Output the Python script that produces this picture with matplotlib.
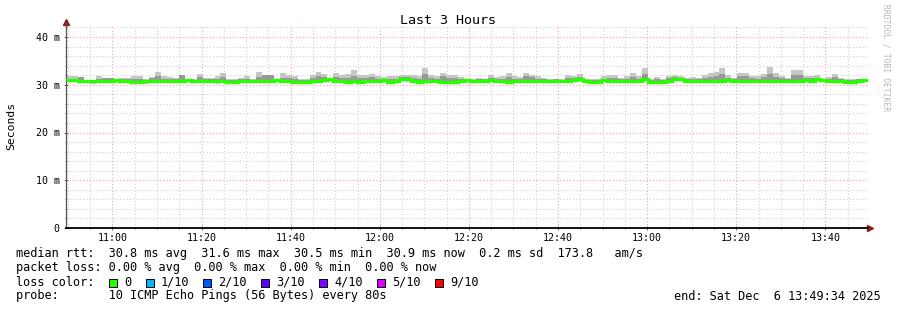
"""
SmokePing style latency graph: last 3 hours of median RTT with ping smoke.
Writes out.png (897x310).
"""

import matplotlib

matplotlib.use("Agg")
import matplotlib.pyplot as plt
import numpy as np
from matplotlib.patches import Rectangle
from matplotlib.ticker import FixedLocator

W, H = 897, 310
MONO = "DejaVu Sans Mono"

# ---- data (ms), one value per 80 s step, starting 10:49:34 ----
start_time = "10:49:34"
step_seconds = 80

median_rtt = [
    30.9, 31.0, 30.8, 30.7, 30.7, 30.7, 30.8, 30.8, 30.9, 30.7, 30.7, 30.6, 30.6, 30.7, 30.8,
    30.8, 30.7, 30.7, 30.8, 30.8, 31.0, 30.8, 30.7, 30.7, 30.7, 30.8, 30.7, 30.6, 30.6, 30.8,
    30.7, 30.8, 30.8, 30.8, 30.7, 30.9, 30.8, 30.7, 30.6, 30.6, 30.6, 30.7, 30.8, 31.0, 31.2,
    30.8, 30.7, 30.6, 30.7, 30.6, 30.8, 30.7, 30.8, 30.9, 30.6, 30.7, 31.3, 31.1, 30.7, 30.6,
    30.7, 30.8, 30.7, 30.6, 30.6, 30.6, 30.8, 30.9, 30.7, 30.8, 30.7, 30.9, 30.8, 30.7, 30.6,
    30.8, 30.7, 30.7, 30.7, 30.8, 30.7, 30.8, 30.8, 30.8, 30.8, 30.9, 31.1, 30.7, 30.6, 30.6,
    30.9, 30.7, 30.7, 30.8, 30.7, 30.8, 30.7, 31.2, 30.6, 30.6, 30.6, 30.8, 31.2, 31.1, 30.8,
    30.8, 30.7, 30.8, 30.7, 30.8, 30.8, 30.9, 30.8, 30.8, 30.8, 30.8, 30.8, 30.7, 30.7, 30.8,
    30.8, 30.7, 30.8, 30.8, 30.9, 30.8, 31.1, 31.0, 30.8, 30.7, 30.8, 30.6, 30.6, 30.7, 30.9,
]

smoke_top = [
    31.8, 31.8, 31.6, 31.0, 31.0, 31.8, 31.5, 31.5, 31.3, 31.4, 31.4, 31.8, 31.8, 31.1, 31.6,
    32.7, 31.8, 31.6, 31.5, 32.1, 31.3, 31.1, 32.3, 31.4, 31.4, 31.8, 32.4, 31.1, 31.1, 31.4,
    31.8, 31.1, 32.7, 32.0, 32.0, 31.3, 32.5, 32.0, 31.8, 31.1, 31.1, 32.0, 32.7, 32.3, 31.5,
    32.4, 32.0, 32.2, 33.0, 32.0, 32.0, 32.3, 31.8, 31.7, 31.8, 31.8, 32.1, 32.1, 32.0, 31.8,
    33.6, 32.0, 31.8, 32.5, 32.1, 32.0, 31.6, 31.1, 31.1, 31.5, 31.3, 32.0, 31.7, 31.8, 32.5,
    31.8, 31.6, 32.5, 32.1, 31.8, 31.4, 31.1, 31.3, 31.1, 32.0, 31.8, 32.3, 31.3, 31.1, 31.3,
    31.8, 32.0, 32.0, 31.4, 31.8, 32.4, 31.8, 33.6, 31.1, 31.6, 31.1, 31.8, 32.0, 31.8, 31.4,
    31.7, 31.4, 32.0, 32.4, 32.7, 33.6, 32.0, 31.5, 32.5, 32.5, 31.8, 31.8, 32.2, 33.7, 32.4,
    31.8, 31.4, 33.0, 33.0, 31.8, 31.8, 32.0, 31.3, 31.7, 32.3, 31.4, 31.1, 31.1, 31.3, 31.3,
]

smoke_inner = [
    31.3, 31.3, 31.6, 30.9, 30.9, 31.3, 31.4, 31.4, 31.1, 31.2, 31.2, 31.2, 31.1, 30.9, 31.5,
    31.9, 31.3, 31.3, 31.3, 32.1, 31.2, 30.9, 31.6, 31.2, 31.2, 31.3, 31.7, 30.9, 30.9, 31.2,
    31.3, 30.9, 31.6, 32.0, 32.0, 31.1, 31.5, 31.4, 31.3, 30.9, 30.9, 31.4, 31.8, 31.6, 31.4,
    31.6, 31.4, 31.4, 31.8, 31.4, 31.4, 31.6, 31.3, 31.2, 31.3, 31.3, 31.6, 31.6, 31.4, 31.2,
    32.3, 31.5, 31.3, 31.9, 31.5, 31.4, 31.2, 30.9, 31.0, 31.2, 31.1, 31.5, 31.2, 31.3, 31.6,
    31.3, 31.3, 31.8, 31.6, 31.3, 31.1, 30.9, 31.1, 31.0, 31.5, 31.4, 31.7, 31.0, 30.9, 31.0,
    31.3, 31.4, 31.4, 31.2, 31.3, 31.6, 31.3, 32.3, 30.9, 31.3, 30.9, 31.4, 31.6, 31.4, 31.2,
    31.3, 31.2, 31.5, 31.7, 31.9, 32.2, 31.5, 31.3, 31.8, 31.8, 31.4, 31.3, 31.6, 32.3, 31.7,
    31.4, 31.2, 32.0, 32.1, 31.4, 31.4, 31.5, 31.2, 31.3, 31.6, 31.2, 31.0, 31.0, 31.1, 31.1,
]

smoke_bottom = [
    30.5, 30.6, 30.4, 30.3, 30.2, 30.4, 30.4, 30.3, 30.5, 30.4, 30.4, 30.3, 30.4, 30.2, 30.4,
    30.3, 30.5, 30.4, 30.4, 30.3, 30.6, 30.4, 30.3, 30.4, 30.4, 30.2, 30.4, 30.4, 30.4, 30.5,
    30.4, 30.4, 30.5, 30.3, 30.4, 30.6, 30.3, 30.4, 30.4, 30.3, 30.3, 30.5, 30.3, 30.6, 30.7,
    30.4, 30.4, 30.3, 30.3, 30.3, 30.5, 30.4, 30.4, 30.6, 30.3, 30.4, 30.8, 30.6, 30.4, 30.3,
    30.3, 30.4, 30.3, 30.4, 30.3, 30.4, 30.5, 30.6, 30.3, 30.5, 30.3, 30.5, 30.5, 30.4, 30.3,
    30.5, 30.4, 30.4, 30.3, 30.5, 30.4, 30.5, 30.4, 30.5, 30.5, 30.6, 30.7, 30.4, 30.3, 30.3,
    30.5, 30.4, 30.3, 30.5, 30.3, 30.4, 30.4, 30.8, 30.3, 30.2, 30.3, 30.5, 30.7, 30.7, 30.5,
    30.4, 30.4, 30.5, 30.4, 30.4, 30.5, 30.6, 30.5, 30.4, 30.4, 30.5, 30.5, 30.3, 30.4, 30.4,
    30.5, 30.4, 30.4, 30.3, 30.6, 30.5, 30.8, 30.6, 30.5, 30.4, 30.5, 30.3, 30.2, 30.4, 30.6,
]

time_ticks = ["11:00", "11:20", "11:40", "12:00", "12:20", "12:40", "13:00", "13:20", "13:40"]
value_ticks = [0, 10, 20, 30, 40]
value_labels = ["0", "10 m", "20 m", "30 m", "40 m"]

loss_labels = ["0", "1/10", "2/10", "3/10", "4/10", "5/10", "9/10"]
loss_colors = ["#26ff00", "#00b8ff", "#0059ff", "#5e00ff", "#7e00ff", "#dd00ff", "#ff0000"]

rtt_line = "median rtt:  30.8 ms avg  31.6 ms max  30.5 ms min  30.9 ms now  0.2 ms sd  173.8   am/s"
loss_line = "packet loss: 0.00 % avg  0.00 % max  0.00 % min  0.00 % now"
probe_line = "probe:       10 ICMP Echo Pings (56 Bytes) every 80s"
end_line = "end: Sat Dec  6 13:49:34 2025"


def hours(hms: str) -> float:
    parts = [int(p) for p in hms.split(":")]
    parts += [0] * (3 - len(parts))
    return parts[0] + parts[1] / 60 + parts[2] / 3600


def main() -> None:
    n = len(median_rtt)
    t0 = hours(start_time)
    edges = t0 + np.arange(n + 1) * step_seconds / 3600.0

    fig = plt.figure(figsize=(W / 100, H / 100), dpi=100)
    fig.patch.set_facecolor("white")
    left, right, bottom, top = 66, 868, 228, 25
    ax = fig.add_axes([left / W, 1 - bottom / H, (right - left) / W, (bottom - top) / H])

    # smoke + median
    ax.stairs(smoke_top, edges, baseline=smoke_bottom, fill=True, color="#c6c6c6", lw=0, zorder=2)
    ax.stairs(smoke_inner, edges, baseline=median_rtt, fill=True, color="#989898", lw=0, zorder=3)
    ax.stairs(median_rtt, edges, baseline=None, color="#26ff00", lw=2.4, zorder=4)

    ax.set_xlim(edges[0], edges[-1])
    ax.set_ylim(0, (bottom - top) / 4.775)

    # ticks / grid
    major_x = [hours(t) for t in time_ticks]
    minor_x = [m / 60 for m in range(650, 830, 5) if m % 20 != 0]
    ax.xaxis.set_major_locator(FixedLocator(major_x))
    ax.xaxis.set_minor_locator(FixedLocator(minor_x))
    ax.set_xticklabels(time_ticks, family=MONO, fontsize=7.2)
    ax.yaxis.set_major_locator(FixedLocator(value_ticks))
    ax.yaxis.set_minor_locator(FixedLocator([v for v in range(2, 43, 2) if v % 10 != 0]))
    ax.set_yticklabels(value_labels, family=MONO, fontsize=7.2)

    ax.grid(which="major", color="#ff9c9c", linestyle=(0, (1, 2)), lw=0.8, zorder=1)
    ax.grid(which="minor", color="#cfcfcf", linestyle=(0, (1, 2)), lw=0.8, zorder=1)
    ax.set_axisbelow(True)
    ax.tick_params(which="major", length=3, width=0.7, color="#666666", pad=2,
                   direction="inout")
    ax.tick_params(which="minor", length=2, width=0.7, color="#999999", direction="inout")
    ax.tick_params(axis="y", pad=3)

    for s in ("top", "right"):
        ax.spines[s].set_visible(False)
    ax.spines["left"].set_color("#505050")
    ax.spines["left"].set_linewidth(0.9)
    ax.spines["bottom"].set_color("black")
    ax.spines["bottom"].set_linewidth(1.3)

    arrow = "#8b1a1a"
    ax.plot([0], [1.015], marker="^", color=arrow, ms=4, transform=ax.transAxes, clip_on=False)
    ax.plot([1.003], [0], marker=">", color=arrow, ms=4, transform=ax.transAxes, clip_on=False)
    ax.plot([0, 0], [1.0, 1.015], color="#505050", lw=0.9, transform=ax.transAxes, clip_on=False)

    # texts
    fig.text(448 / W, 1 - 20 / H, "Last 3 Hours", family=MONO, fontsize=9.6,
             ha="center", va="center")
    fig.text(11 / W, 1 - 126 / H, "Seconds", family=MONO, fontsize=8.2,
             rotation=90, ha="center", va="center")
    fig.text(886 / W, 1 - 4 / H, "RRDTOOL / TOBI OETIKER", family=MONO, fontsize=5.8,
             color="#b8b8b8", rotation=-90, ha="center", va="top")

    fs = 8.53
    fig.text(16 / W, 1 - 254 / H, rtt_line, family=MONO, fontsize=fs, va="center")
    fig.text(16 / W, 1 - 268 / H, loss_line, family=MONO, fontsize=fs, va="center")
    fig.text(16 / W, 1 - 282 / H, "loss color:", family=MONO, fontsize=fs, va="center")
    fig.text(16 / W, 1 - 296 / H, probe_line, family=MONO, fontsize=fs, va="center")
    fig.text(881 / W, 1 - 296 / H, end_line, family=MONO, fontsize=fs, va="center", ha="right")

    box_x = [109, 146, 203, 261, 319, 377, 435]
    for bx, lab, col in zip(box_x, loss_labels, loss_colors):
        fig.patches.append(
            Rectangle((bx / W, 1 - 286.5 / H), 8 / W, 8 / H, transform=fig.transFigure,
                      facecolor=col, edgecolor="black", lw=0.7)
        )
        fig.text((bx + 15) / W, 1 - 282 / H, lab, family=MONO, fontsize=fs, va="center")

    fig.savefig("out.png", dpi=100)


if __name__ == "__main__":
    main()
